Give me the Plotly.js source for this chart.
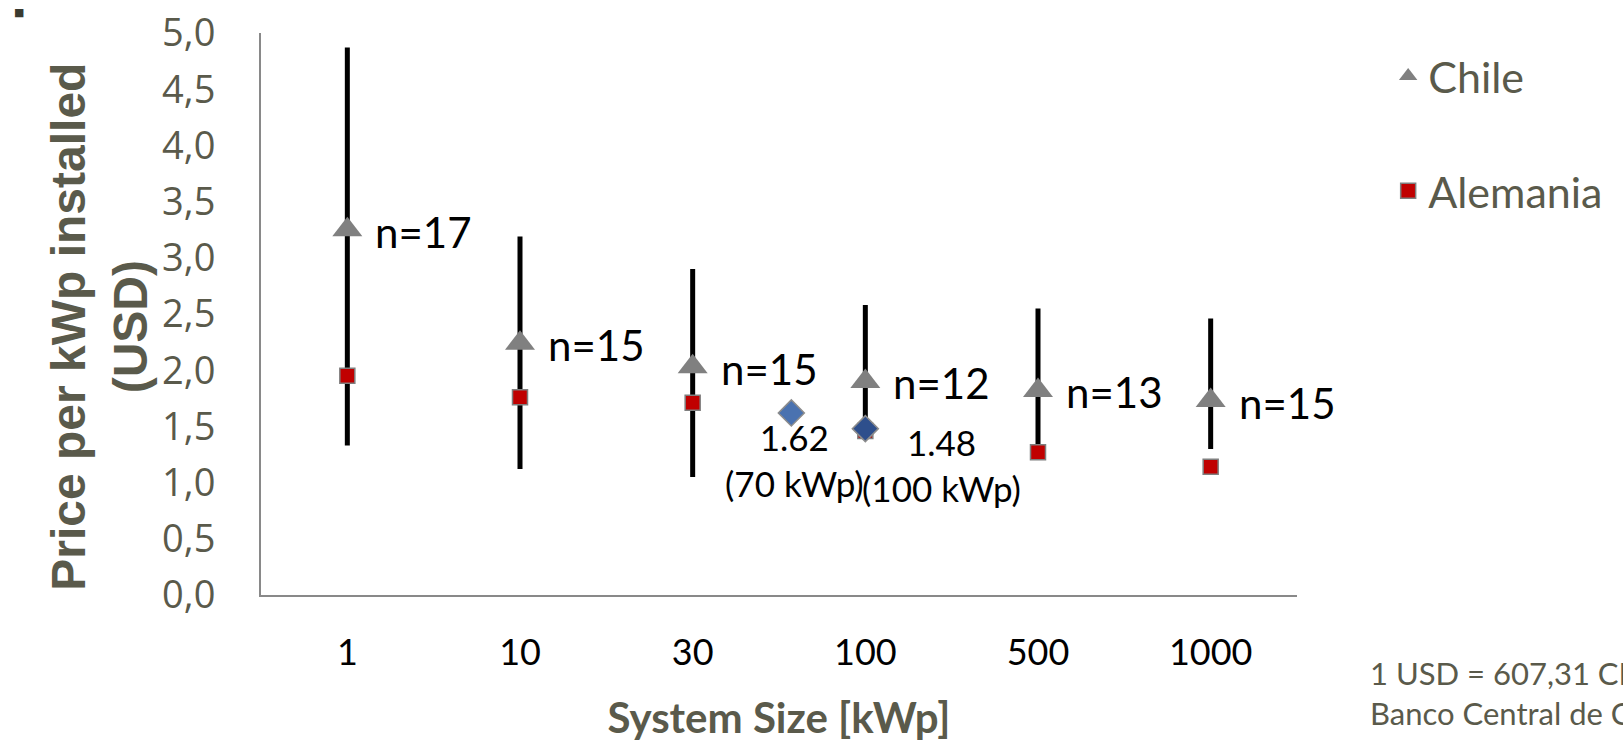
<!DOCTYPE html>
<html>
<head>
<meta charset="utf-8">
<script src="https://cdn.plot.ly/plotly-3.0.1.min.js"></script>
<style>
  html, body { margin: 0; padding: 0; background: #ffffff; }
  #chart { width: 1623px; height: 742px; }
</style>
</head>
<body>
<div id="chart"></div>
<script>
// ---- data ----
const categories = ['1', '10', '30', '100', '500', '1000'];
const categorySizes = [1, 10, 30, 100, 500, 1000];
const chilePrice = [3.25, 2.24, 2.03, 1.90, 1.82, 1.73];
const chileMax = [4.87, 3.19, 2.90, 2.58, 2.55, 2.46];
const chileMin = [1.33, 1.12, 1.05, 1.47, 1.27, 1.30];
const alemaniaPrice = [1.95, 1.76, 1.71, 1.46, 1.27, 1.14];
const nLabels = ['n=17', 'n=15', 'n=15', 'n=12', 'n=13', 'n=15'];
const refSizes = [70, 100];
const refPrice = [1.62, 1.48];
const refLabels = ['1.62<br>(70 kWp)', '1.48<br>(100 kWp)'];
const yTitle = 'Price per kWp installed<br>(USD)';
const xTitle = 'System Size [kWp]';
const footnote = '1 USD = 607,31 CLP<br>Banco Central de Chile';

// position of a system size on the category axis (linear between neighbouring categories)
function sizeToPos(s) {
  for (let i = 0; i < categorySizes.length - 1; i++) {
    if (s >= categorySizes[i] && s <= categorySizes[i + 1]) {
      return i + (s - categorySizes[i]) / (categorySizes[i + 1] - categorySizes[i]);
    }
  }
  return categorySizes.length - 1;
}

const catPos = categories.map((c, i) => i);
const refPos = refSizes.map(sizeToPos);

const olive = '#5a5a4b';
const calib = 'Lato, "Open Sans", sans-serif';

const traces = [
  {
    type: 'scatter', mode: 'markers', name: 'Chile',
    x: catPos, y: chilePrice,
    legendgroup: 'g1',
    marker: { symbol: 'triangle-up', size: 26, color: '#808080' },
    error_y: {
      type: 'data', symmetric: false,
      array: chilePrice.map((v, i) => chileMax[i] - v),
      arrayminus: chilePrice.map((v, i) => v - chileMin[i]),
      color: '#000000', thickness: 5, width: 0
    },
    hoverinfo: 'skip'
  },
  {
    type: 'scatter', mode: 'markers', name: 'Alemania',
    x: catPos, y: alemaniaPrice,
    legendgroup: 'g2',
    marker: { symbol: 'square', size: 15, color: '#c00000', line: { color: '#7f7f7f', width: 1.5 } },
    hoverinfo: 'skip'
  },
  {
    type: 'scatter', mode: 'markers', name: 'Referencia',
    x: refPos, y: refPrice, showlegend: false,
    marker: { symbol: 'diamond', size: 20, color: ['#4a72b0', '#2e4f8c'], line: { color: '#8c8c8c', width: 1.5 } },
    hoverinfo: 'skip'
  }
];

const annotations = [];
nLabels.forEach((t, i) => {
  annotations.push({
    x: catPos[i], y: chilePrice[i], xref: 'x', yref: 'y',
    text: t, showarrow: false, xanchor: 'left', yanchor: 'middle',
    xshift: 26, yshift: -2,
    font: { family: calib, size: 42, color: '#000000' }
  });
});
annotations.push({
  x: refPos[0], y: refPrice[0], xref: 'x', yref: 'y',
  text: refLabels[0], showarrow: false, xanchor: 'center', yanchor: 'top',
  xshift: 3, yshift: -1,
  font: { family: calib, size: 35, color: '#000000' }
});
annotations.push({
  x: refPos[1], y: refPrice[1], xref: 'x', yref: 'y',
  text: refLabels[1], showarrow: false, xanchor: 'center', yanchor: 'top',
  xshift: 76, yshift: 10,
  font: { family: calib, size: 35, color: '#000000' }
});
annotations.push({
  x: -0.156, y: 0.478, xref: 'paper', yref: 'paper',
  text: yTitle, showarrow: false, xanchor: 'center', yanchor: 'middle',
  textangle: -90,
  font: { family: '"Liberation Sans", Arial, sans-serif', size: 48, color: olive, weight: 'bold' }
});
annotations.push({
  x: 1.069, y: -0.175, xref: 'paper', yref: 'paper',
  text: footnote, showarrow: false, xanchor: 'left', yanchor: 'middle', align: 'left',
  font: { family: calib, size: 31, color: olive }
});
annotations.push({
  x: -0.234, y: 1.036, xref: 'paper', yref: 'paper',
  text: '■', showarrow: false, xanchor: 'center', yanchor: 'middle',
  font: { family: 'DejaVu Sans', size: 11, color: '#3a3a30' }
});

const layout = {
  width: 1623, height: 742,
  margin: { l: 261, r: 326, t: 33, b: 147, pad: 0 },
  paper_bgcolor: '#ffffff', plot_bgcolor: '#ffffff',
  separators: ',.',
  showlegend: true,
  legend: {
    x: 1.088, y: 0.985, xanchor: 'left', yanchor: 'top',
    traceorder: 'grouped', tracegroupgap: 56,
    font: { family: calib, size: 43, color: olive },
    bgcolor: 'rgba(0,0,0,0)'
  },
  xaxis: {
    range: [-0.5, 5.5],
    tickmode: 'array', tickvals: catPos, ticktext: categories,
    showline: true, linecolor: '#898989', linewidth: 2,
    showgrid: false, zeroline: false, ticks: '',
    ticklabelstandoff: 25,
    tickfont: { family: calib, size: 36, color: '#000000' },
    title: { text: xTitle, standoff: 41,
      font: { family: calib, size: 42, color: olive, weight: 'bold' } },
    fixedrange: true
  },
  yaxis: {
    range: [0, 5], dtick: 0.5, tick0: 0, tickformat: '.1f',
    showline: true, linecolor: '#898989', linewidth: 2,
    showgrid: false, zeroline: false, ticks: '',
    ticklabelstandoff: 36,
    tickfont: { family: '"Open Sans", sans-serif', size: 38, color: olive },
    fixedrange: true
  },
  annotations: annotations
};

Plotly.newPlot('chart', traces, layout, { displayModeBar: false, staticPlot: true });
</script>
</body>
</html>
